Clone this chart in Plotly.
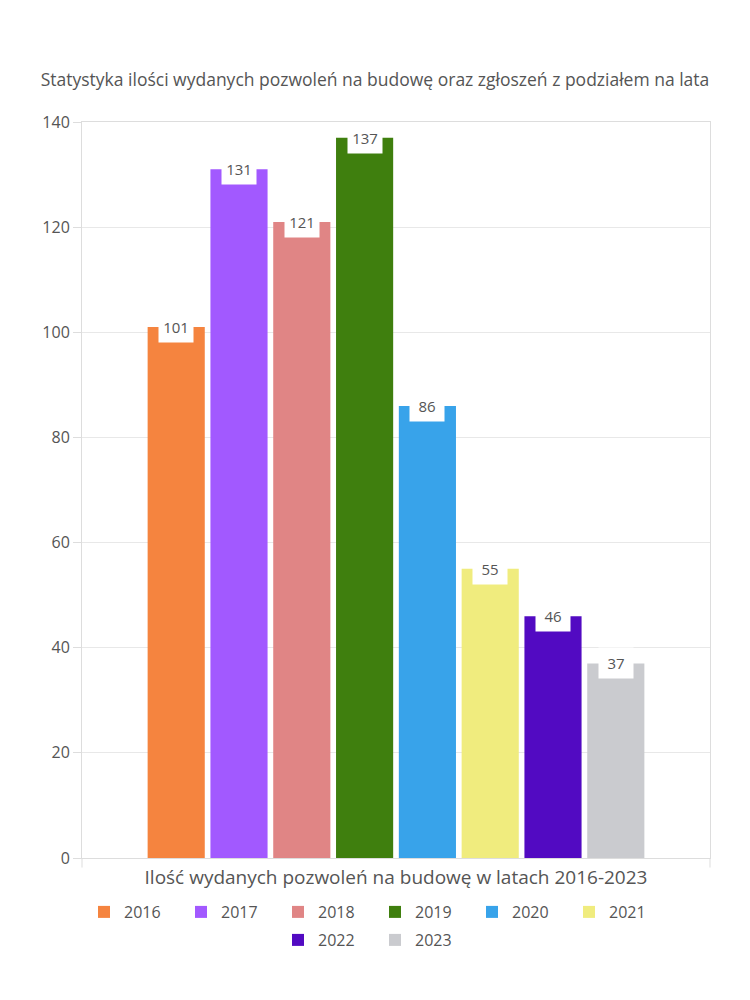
import plotly.graph_objects as go

years = ["2016", "2017", "2018", "2019", "2020", "2021", "2022", "2023"]
values = [101, 131, 121, 137, 86, 55, 46, 37]
colors = ["#F5843F", "#A259FF", "#E08585", "#3F7F0E", "#38A3EA", "#F0EC7E", "#520AC2", "#CACBCF"]
legend_rows = ["legend"] * 6 + ["legend2"] * 2
y_ticks = [0, 20, 40, 60, 80, 100, 120, 140]

title_text = "Statystyka ilości wydanych pozwoleń na budowę oraz zgłoszeń z podziałem na lata"
x_title = "Ilość wydanych pozwoleń na budowę w latach 2016-2023"

FONT = "Open Sans"
TXT = "#555555"

fig = go.Figure()
for yr, v, c, lg in zip(years, values, colors, legend_rows):
    fig.add_trace(go.Bar(
        x=[yr], y=[v], name=yr, legend=lg,
        marker=dict(color=c, line=dict(width=0)),
        hoverinfo="x+y",
    ))

for i, v in enumerate(values):
    fig.add_annotation(
        x=i, y=v, xref="x", yref="y",
        text=str(v), showarrow=False,
        yanchor="middle", xanchor="center",
        bgcolor="white", borderpad=2, width=30, height=26,
        font=dict(family=FONT, size=15, color=TXT),
    )

# small boundary ticks below x axis at the ends
for xp in (0, 1):
    fig.add_shape(type="line", xref="paper", yref="paper",
                  x0=xp, x1=xp, y0=0, y1=-0.013,
                  line=dict(color="#dddddd", width=1))

legend_common = dict(orientation="h", xanchor="center", xref="container",
                     yanchor="middle", yref="container",
                     font=dict(family=FONT, size=16, color=TXT),
                     entrywidth=52, itemwidth=30, tracegroupgap=0,
                     bgcolor="rgba(0,0,0,0)")

fig.update_layout(
    width=750, height=1000,
    paper_bgcolor="white", plot_bgcolor="white",
    margin=dict(l=82, r=40, t=122, b=142),
    barmode="overlay", bargap=0.09,
    font=dict(family=FONT, size=16, color=TXT),
    title=dict(text=title_text, x=0.5, xanchor="center", xref="container",
               y=1 - 80 / 1000, yanchor="middle", yref="container",
               font=dict(family=FONT, size=17.5, color=TXT)),
    showlegend=True,
    legend=dict(x=0.5, y=1 - 912 / 1000, **legend_common),
    legend2=dict(x=0.5, y=1 - 940 / 1000, **legend_common),
)

fig.update_xaxes(
    type="category", categoryorder="array", categoryarray=years,
    range=[-1.5, 8.5], showticklabels=False, ticks="",
    showgrid=False, zeroline=False,
    showline=True, linecolor="#dddddd", linewidth=1, mirror=True,
    title=dict(text=x_title, standoff=12, font=dict(family=FONT, size=19, color=TXT)),
)
fig.update_yaxes(
    range=[0, 140], tickmode="array", tickvals=y_ticks,
    ticks="outside", ticklen=8, tickcolor="#dddddd",
    showgrid=True, gridcolor="#e8e8e8", gridwidth=1,
    zeroline=False, showline=True, linecolor="#dddddd", linewidth=1, mirror=True,
    tickfont=dict(family=FONT, size=16, color=TXT),
)

fig.write_html("out.html")
